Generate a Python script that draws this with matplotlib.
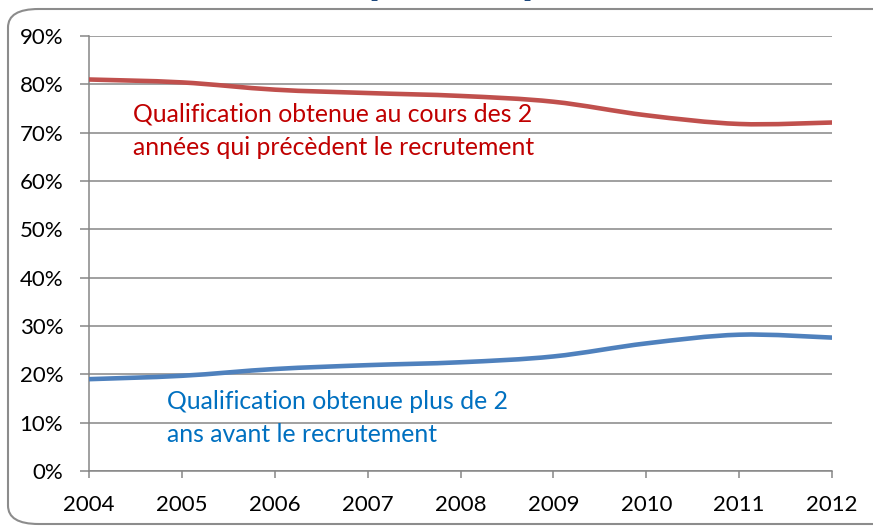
import matplotlib
matplotlib.use("Agg")
import matplotlib.pyplot as plt
from matplotlib.path import Path
from matplotlib.patches import PathPatch, FancyBboxPatch
from matplotlib.ticker import PercentFormatter
import numpy as np

# data (percent)
years = [2004, 2005, 2006, 2007, 2008, 2009, 2010, 2011, 2012]
recent_share = [81.0, 80.4, 78.9, 78.2, 77.6, 76.4, 73.6, 71.8, 72.1]
older_share = [19.0, 19.7, 21.1, 21.9, 22.5, 23.7, 26.4, 28.2, 27.6]
recent_label = "Qualification obtenue au cours des 2\nannées qui précèdent le recrutement"
older_label = "Qualification obtenue plus de 2\nans avant le recrutement"
title = "Ancienneté de la qualification depuis l'obtention"

RED = "#C0504D"
BLUE = "#4F81BD"
GRID = "#868686"

plt.rcParams["font.family"] = ["Lato", "DejaVu Sans"]


def smooth_path(xs, ys, tension=1 / 6):
    """Excel-like smoothed line as cubic bezier segments through the points"""
    pts = np.column_stack([xs, ys]).astype(float)
    verts = [pts[0]]
    codes = [Path.MOVETO]
    n = len(pts)
    for i in range(n - 1):
        p0 = pts[max(i - 1, 0)]
        p1 = pts[i]
        p2 = pts[i + 1]
        p3 = pts[min(i + 2, n - 1)]
        c1 = p1 + (p2 - p0) * tension
        c2 = p2 - (p3 - p1) * tension
        verts += [c1, c2, p2]
        codes += [Path.CURVE4] * 3
    return Path(verts, codes)


fig = plt.figure(figsize=(8.73, 5.27), dpi=100)

# rounded chart border (runs past the right edge of the image)
fig.patches.append(FancyBboxPatch(
    (8 / 873, 3 / 527), 900 / 873, 515 / 527,
    boxstyle="round,pad=0,rounding_size=0.035",
    transform=fig.transFigure, fc="none", ec="#8c8c8c", lw=1.5,
))

ax = fig.add_axes([89 / 873, 56 / 527, 743 / 873, 435 / 527])

for vals, color in [(recent_share, RED), (older_share, BLUE)]:
    ax.add_patch(PathPatch(smooth_path(years, vals), fc="none", ec=color,
                           lw=3.3, capstyle="round", zorder=3))

ax.set_xlim(years[0], years[-1])
ax.set_ylim(0, 90)
ax.set_xticks(years)
ax.set_yticks(np.arange(0, 91, 10))
ax.yaxis.set_major_formatter(PercentFormatter(decimals=0))
ax.grid(axis="y", color=GRID, lw=1.1)
ax.set_axisbelow(True)

for side in ["top", "right"]:
    ax.spines[side].set_visible(False)
for side in ["left", "bottom"]:
    ax.spines[side].set_color(GRID)
    ax.spines[side].set_linewidth(1.1)

ax.tick_params(axis="y", length=6.5, width=1.1, color=GRID, pad=12, labelsize=16)
ax.tick_params(axis="x", length=5, width=1.1, color=GRID, pad=12, labelsize=16)

ax.text(2004.47, 76.2, recent_label, color="#C00000", fontsize=17.8,
        va="top", ha="left", linespacing=1.55)
ax.text(2004.84, 16.7, older_label, color="#0070C0", fontsize=17.8,
        va="top", ha="left", linespacing=1.5)

# title clipped by the top of the image
fig.text(437 / 873, 1.0 + 3 / 527, title, ha="center", va="baseline", color="#1F497D",
         fontsize=13, fontweight="bold", family=["DejaVu Serif"])

fig.savefig("out.png", dpi=100)
